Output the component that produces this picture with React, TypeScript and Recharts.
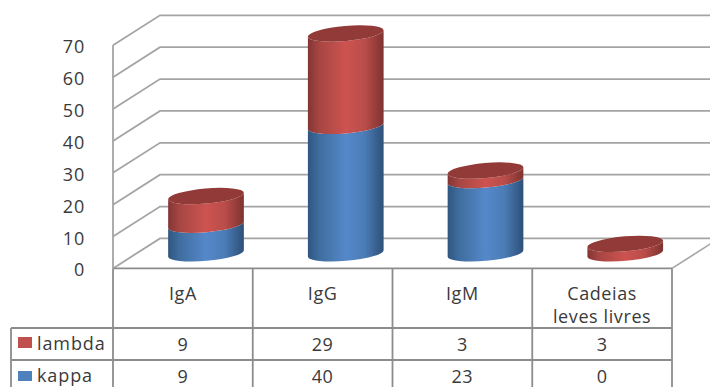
import React from 'react';
import { BarChart, Bar, XAxis, YAxis, CartesianGrid } from 'recharts';

const categories = ['IgA', 'IgG', 'IgM', 'Cadeias leves livres'];
const kappa = [9, 40, 23, 0];
const lambda = [9, 29, 3, 3];
const yTicks = [0, 10, 20, 30, 40, 50, 60, 70];

const data = categories.map((name, i) => ({ name, kappa: kappa[i], lambda: lambda[i] }));

const WIDTH = 710;
const HEIGHT = 387;
const PLOT_TOP = 45.3;
const PLOT_BOTTOM = 268.4;
const PLOT_LEFT = 113;
const PLOT_RIGHT = 672;

// the fake 3D box: back wall is shifted by this much
const DEPTH_X = 47;
const DEPTH_Y = 30;

const ROW_1 = 328;
const ROW_2 = 360;
const TABLE_LEFT = 11;

const GRID_COLOR = '#a4a4a4';
const TABLE_COLOR = '#8c8c8c';
const TEXT_COLOR = '#3a3a3a';
const FONT = '"Open Sans", sans-serif';

const RED = '#c0504d';
const BLUE = '#4f81bd';

// tilted ellipse used for the cylinder caps
const RX = 38;
const RY = 7.5;
const TILT = 5;
const capDx = RX * Math.cos((TILT * Math.PI) / 180);
const capDy = RX * Math.sin((TILT * Math.PI) / 180);

function Cylinder(props: any) {
  const { x, y, width, height, fillId, capColor } = props;
  if (!height || height <= 0) return null;
  const cx = x + width / 2 + DEPTH_X / 2;
  const top = y - DEPTH_Y / 2;
  const bottom = y + height - DEPTH_Y / 2;
  const body =
    `M${cx - capDx},${top + capDy}` +
    `A${RX},${RY} ${-TILT} 0 0 ${cx + capDx},${top - capDy}` +
    `L${cx + capDx},${bottom - capDy}` +
    `A${RX},${RY} ${-TILT} 0 1 ${cx - capDx},${bottom + capDy}Z`;
  return (
    <g>
      <path d={body} fill={`url(#${fillId})`} />
      {capColor && (
        <ellipse
          cx={cx}
          cy={top}
          rx={RX}
          ry={RY}
          fill={capColor}
          transform={`rotate(${-TILT} ${cx} ${top})`}
        />
      )}
    </g>
  );
}

// gridlines run along the side wall, then across the back wall
function WallLine(props: any) {
  const { x1, y1, x2 } = props;
  const backY = y1 - DEPTH_Y;
  const isFloor = Math.abs(y1 - PLOT_BOTTOM) < 1;
  return (
    <g>
      <path
        d={`M${x1},${y1}L${x1 + DEPTH_X},${backY}L${x2 + DEPTH_X},${backY}`}
        fill="none"
        stroke={GRID_COLOR}
        strokeWidth={1.8}
      />
      {isFloor && (
        <line x1={x2} y1={y1} x2={x2 + DEPTH_X} y2={backY} stroke={GRID_COLOR} strokeWidth={1.6} />
      )}
    </g>
  );
}

function splitLabel(label: string) {
  const cut = label.indexOf(' ');
  return label.length > 10 ? [label.slice(0, cut), label.slice(cut + 1)] : [label];
}

// one column of the data table: category name plus its two values
function TableColumn(props: any) {
  const { x, index, payload } = props;
  const band = (PLOT_RIGHT - PLOT_LEFT) / categories.length;
  const lines = splitLabel(payload.value);
  const textProps = {
    textAnchor: 'middle' as const,
    fontFamily: FONT,
    fontSize: 18,
    fill: TEXT_COLOR,
    letterSpacing: 0.6,
  };
  return (
    <g>
      <line x1={x + band / 2} y1={PLOT_BOTTOM} x2={x + band / 2} y2={HEIGHT} stroke={TABLE_COLOR} strokeWidth={1.8} />
      {index === 0 && (
        <line x1={x - band / 2} y1={PLOT_BOTTOM} x2={x - band / 2} y2={HEIGHT} stroke={TABLE_COLOR} strokeWidth={1.8} />
      )}
      {lines.length === 1 ? (
        <text x={x} y={300} {...textProps}>{lines[0]}</text>
      ) : (
        <>
          <text x={x} y={300} {...textProps}>{lines[0]}</text>
          <text x={x} y={323} {...textProps}>{lines[1]}</text>
        </>
      )}
      <text x={x} y={351} {...textProps}>{lambda[index]}</text>
      <text x={x} y={383} {...textProps}>{kappa[index]}</text>
    </g>
  );
}

function TableFrame() {
  const rule = { stroke: TABLE_COLOR, strokeWidth: 1.8 };
  const label = { fontFamily: FONT, fontSize: 18, fill: TEXT_COLOR, letterSpacing: 0.9 };
  return (
    <g>
      <line x1={PLOT_LEFT} y1={PLOT_BOTTOM} x2={PLOT_RIGHT} y2={PLOT_BOTTOM} {...rule} />
      <line x1={TABLE_LEFT} y1={ROW_1} x2={PLOT_RIGHT} y2={ROW_1} {...rule} />
      <line x1={TABLE_LEFT} y1={ROW_2} x2={PLOT_RIGHT} y2={ROW_2} {...rule} />
      <line x1={TABLE_LEFT} y1={ROW_1} x2={TABLE_LEFT} y2={HEIGHT} {...rule} />
      <rect x={18} y={337} width={14} height={11} fill={RED} />
      <rect x={18} y={371} width={14} height={10} fill={BLUE} />
      <text x={37} y={350} {...label}>lambda</text>
      <text x={37} y={382} {...label}>kappa</text>
    </g>
  );
}

function YTick(props: any) {
  const { x, y, payload } = props;
  return (
    <text
      x={x + 1}
      y={y + 8}
      textAnchor="end"
      fontFamily={FONT}
      fontSize={18}
      fill={TEXT_COLOR}
      letterSpacing={0.8}
    >
      {payload.value}
    </text>
  );
}

export default function App() {
  return (
    <div style={{ position: 'fixed', left: 0, top: 0, width: WIDTH, height: HEIGHT, background: '#fff' }}>
      <BarChart
        width={WIDTH}
        height={HEIGHT}
        data={data}
        barSize={75}
        margin={{ top: PLOT_TOP, right: WIDTH - PLOT_RIGHT, bottom: 0, left: 0 }}
      >
        <defs>
          <linearGradient id="blueBody" x1="0" y1="0" x2="1" y2="0">
            <stop offset="0" stopColor="#2f567f" />
            <stop offset="0.15" stopColor="#3f6d9f" />
            <stop offset="0.5" stopColor="#5588c9" />
            <stop offset="0.75" stopColor="#4b7cb6" />
            <stop offset="1" stopColor="#2d5078" />
          </linearGradient>
          <linearGradient id="redBody" x1="0" y1="0" x2="1" y2="0">
            <stop offset="0" stopColor="#833533" />
            <stop offset="0.15" stopColor="#a64643" />
            <stop offset="0.5" stopColor="#cd5350" />
            <stop offset="0.75" stopColor="#b94d4a" />
            <stop offset="1" stopColor="#7e3230" />
          </linearGradient>
        </defs>
        <CartesianGrid vertical={false} horizontal={(p: any) => <WallLine key={p.key} {...p} />} />
        <XAxis
          dataKey="name"
          height={HEIGHT - PLOT_BOTTOM}
          axisLine={false}
          tickLine={false}
          interval={0}
          tick={(p: any) => <TableColumn {...p} />}
        />
        <YAxis
          width={PLOT_LEFT}
          domain={[0, 70]}
          ticks={yTicks}
          interval={0}
          tickLine={false}
          tickMargin={23}
          axisLine={{ stroke: GRID_COLOR, strokeWidth: 1.8 }}
          tick={(p: any) => <YTick {...p} />}
        />
        <Bar
          dataKey="kappa"
          stackId="ig"
          isAnimationActive={false}
          shape={(p: any) => <Cylinder {...p} fillId="blueBody" />}
        />
        <Bar
          dataKey="lambda"
          stackId="ig"
          isAnimationActive={false}
          shape={(p: any) => <Cylinder {...p} fillId="redBody" capColor="#913a37" />}
        />
        <TableFrame />
      </BarChart>
    </div>
  );
}
